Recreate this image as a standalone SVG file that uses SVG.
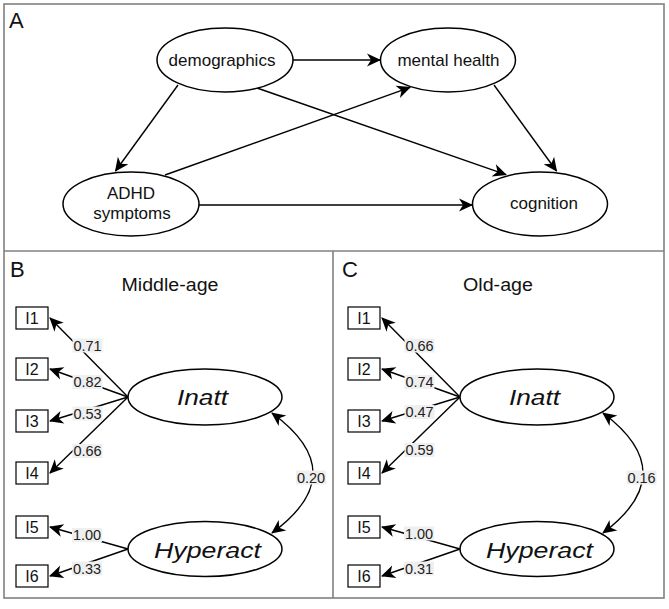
<svg xmlns="http://www.w3.org/2000/svg" width="669" height="609" viewBox="0 0 669 609">
<style>
text{font-family:"Liberation Sans",Arial,Helvetica,sans-serif;fill:#111}
.frame{fill:none;stroke:#808080;stroke-width:1.6}
.node{fill:#fff;stroke:#000;stroke-width:1.5}
.box{fill:#fff;stroke:#000;stroke-width:1.2}
.nt{font-size:17px;text-anchor:middle}
.pl{font-size:22px}
.title{font-size:17.5px;text-anchor:middle}
.lat{font-size:21.5px;font-style:italic;text-anchor:middle}
.ind{font-size:16px;text-anchor:middle}
.edge{fill:none;stroke:#000;stroke-width:1.4;marker-end:url(#arr)}
.cov{fill:none;stroke:#000;stroke-width:1.4;marker-end:url(#arr);marker-start:url(#arr)}
.lbg{fill:#efefef}
.lt{font-size:14.5px;text-anchor:middle;fill:#222}
</style>
<defs>
<marker id="arr" markerUnits="userSpaceOnUse" viewBox="-15 -8 16 16" refX="-1" refY="0" markerWidth="16" markerHeight="16" orient="auto-start-reverse">
<path d="M0,0 L-14,-6.5 L-10,0 L-14,6.5 Z" fill="#000"/>
</marker>
</defs>
<rect width="669" height="609" fill="#fff"/>
<g id="frames">
<rect class="frame" x="4" y="4" width="660" height="594"/>
<line class="frame" x1="4" y1="251" x2="664" y2="251"/>
<line class="frame" x1="333" y1="251" x2="333" y2="598"/>
<text class="pl" x="9" y="28">A</text>
<text class="pl" x="10" y="277">B</text>
<text class="pl" x="342" y="277">C</text>
<text class="title" x="170" y="290.5" textLength="97" lengthAdjust="spacingAndGlyphs">Middle-age</text>
<text class="title" x="498" y="290.5" textLength="70" lengthAdjust="spacingAndGlyphs">Old-age</text>
</g>

<g id="connectors">
<!-- Panel A -->
<line class="edge" x1="293" y1="60" x2="380" y2="60"/>
<line class="edge" x1="178" y1="85" x2="115.5" y2="171"/>
<line class="edge" x1="257" y1="88" x2="506" y2="174.6"/>
<line class="edge" x1="165" y1="175" x2="410" y2="87.4"/>
<line class="edge" x1="494" y1="85" x2="556.5" y2="171"/>
<line class="edge" x1="199" y1="205" x2="472" y2="205"/>
<!-- Panel B -->
<line class="edge" x1="128" y1="397" x2="50" y2="318"/>
<line class="edge" x1="128" y1="397" x2="50" y2="369"/>
<line class="edge" x1="128" y1="397" x2="50" y2="421"/>
<line class="edge" x1="128" y1="397" x2="50" y2="473"/>
<line class="edge" x1="128" y1="549" x2="50" y2="527"/>
<line class="edge" x1="128" y1="549" x2="50" y2="576"/>
<path class="cov" d="M272,413 Q354,473 272,533"/>
<!-- Panel C -->
<line class="edge" x1="460" y1="397" x2="382" y2="318"/>
<line class="edge" x1="460" y1="397" x2="382" y2="369"/>
<line class="edge" x1="460" y1="397" x2="382" y2="421"/>
<line class="edge" x1="460" y1="397" x2="382" y2="473"/>
<line class="edge" x1="460" y1="549" x2="382" y2="527"/>
<line class="edge" x1="460" y1="549" x2="382" y2="576"/>
<path class="cov" d="M603,413 Q683,473 603,533"/>
</g>

<g id="edge-labels">
<rect class="lbg" x="72.5" y="338.5" width="30" height="14"/><text class="lt" x="87.5" y="350.5">0.71</text>
<rect class="lbg" x="72.5" y="375" width="30" height="14"/><text class="lt" x="87.5" y="387">0.82</text>
<rect class="lbg" x="72.5" y="406.5" width="30" height="14"/><text class="lt" x="87.5" y="418.5">0.53</text>
<rect class="lbg" x="72.5" y="444" width="30" height="14"/><text class="lt" x="87.5" y="456">0.66</text>
<rect class="lbg" x="72" y="528" width="30" height="14"/><text class="lt" x="87" y="540">1.00</text>
<rect class="lbg" x="72" y="561.5" width="30" height="14"/><text class="lt" x="87" y="573.5">0.33</text>
<rect class="lbg" x="296" y="470.5" width="30" height="14"/><text class="lt" x="311" y="482.5">0.20</text>

<rect class="lbg" x="404.5" y="338.5" width="30" height="14"/><text class="lt" x="419.5" y="350.5">0.66</text>
<rect class="lbg" x="404.5" y="375" width="30" height="14"/><text class="lt" x="419.5" y="387">0.74</text>
<rect class="lbg" x="404.5" y="405" width="30" height="14"/><text class="lt" x="419.5" y="417">0.47</text>
<rect class="lbg" x="404.5" y="443" width="30" height="14"/><text class="lt" x="419.5" y="455">0.59</text>
<rect class="lbg" x="404" y="526.5" width="30" height="14"/><text class="lt" x="419" y="538.5">1.00</text>
<rect class="lbg" x="404" y="561.5" width="30" height="14"/><text class="lt" x="419" y="573.5">0.31</text>
<rect class="lbg" x="626.5" y="470.5" width="30" height="14"/><text class="lt" x="641.5" y="482.5">0.16</text>
</g>

<g id="demographics"><ellipse class="node" cx="225" cy="60" rx="68" ry="32"/><text class="nt" x="222" y="66">demographics</text></g>
<g id="mental-health"><ellipse class="node" cx="448" cy="60" rx="67.5" ry="32"/><text class="nt" x="448.5" y="66">mental health</text></g>
<g id="adhd-symptoms"><ellipse class="node" cx="131" cy="204" rx="68" ry="32"/><text class="nt" x="131" y="199">ADHD</text><text class="nt" x="132" y="219">symptoms</text></g>
<g id="cognition"><ellipse class="node" cx="540" cy="204" rx="67.5" ry="32"/><text class="nt" x="544" y="208.5">cognition</text></g>

<g id="B-Inatt"><ellipse class="node" cx="205" cy="397" rx="77" ry="28"/><text class="lat" x="202.5" y="405" textLength="51" lengthAdjust="spacingAndGlyphs">Inatt</text></g>
<g id="B-Hyperact"><ellipse class="node" cx="205" cy="549" rx="77" ry="27.5"/><text class="lat" x="207.5" y="558" textLength="107" lengthAdjust="spacingAndGlyphs">Hyperact</text></g>
<g id="B-I1"><rect class="box" x="16" y="307" width="32" height="22"/><text class="ind" x="32" y="324">I1</text></g>
<g id="B-I2"><rect class="box" x="16" y="358" width="32" height="22"/><text class="ind" x="32" y="375">I2</text></g>
<g id="B-I3"><rect class="box" x="16" y="410" width="32" height="22"/><text class="ind" x="32" y="427">I3</text></g>
<g id="B-I4"><rect class="box" x="16" y="462" width="32" height="22"/><text class="ind" x="32" y="479">I4</text></g>
<g id="B-I5"><rect class="box" x="16" y="516" width="32" height="22"/><text class="ind" x="32" y="533">I5</text></g>
<g id="B-I6"><rect class="box" x="16" y="565" width="32" height="22"/><text class="ind" x="32" y="582">I6</text></g>

<g id="C-Inatt"><ellipse class="node" cx="537" cy="397" rx="77" ry="28"/><text class="lat" x="534.5" y="405" textLength="51" lengthAdjust="spacingAndGlyphs">Inatt</text></g>
<g id="C-Hyperact"><ellipse class="node" cx="537" cy="549" rx="77" ry="27.5"/><text class="lat" x="539.5" y="558" textLength="107" lengthAdjust="spacingAndGlyphs">Hyperact</text></g>
<g id="C-I1"><rect class="box" x="348" y="307" width="32" height="22"/><text class="ind" x="364" y="324">I1</text></g>
<g id="C-I2"><rect class="box" x="348" y="358" width="32" height="22"/><text class="ind" x="364" y="375">I2</text></g>
<g id="C-I3"><rect class="box" x="348" y="410" width="32" height="22"/><text class="ind" x="364" y="427">I3</text></g>
<g id="C-I4"><rect class="box" x="348" y="462" width="32" height="22"/><text class="ind" x="364" y="479">I4</text></g>
<g id="C-I5"><rect class="box" x="348" y="516" width="32" height="22"/><text class="ind" x="364" y="533">I5</text></g>
<g id="C-I6"><rect class="box" x="348" y="565" width="32" height="22"/><text class="ind" x="364" y="582">I6</text></g>
</svg>
